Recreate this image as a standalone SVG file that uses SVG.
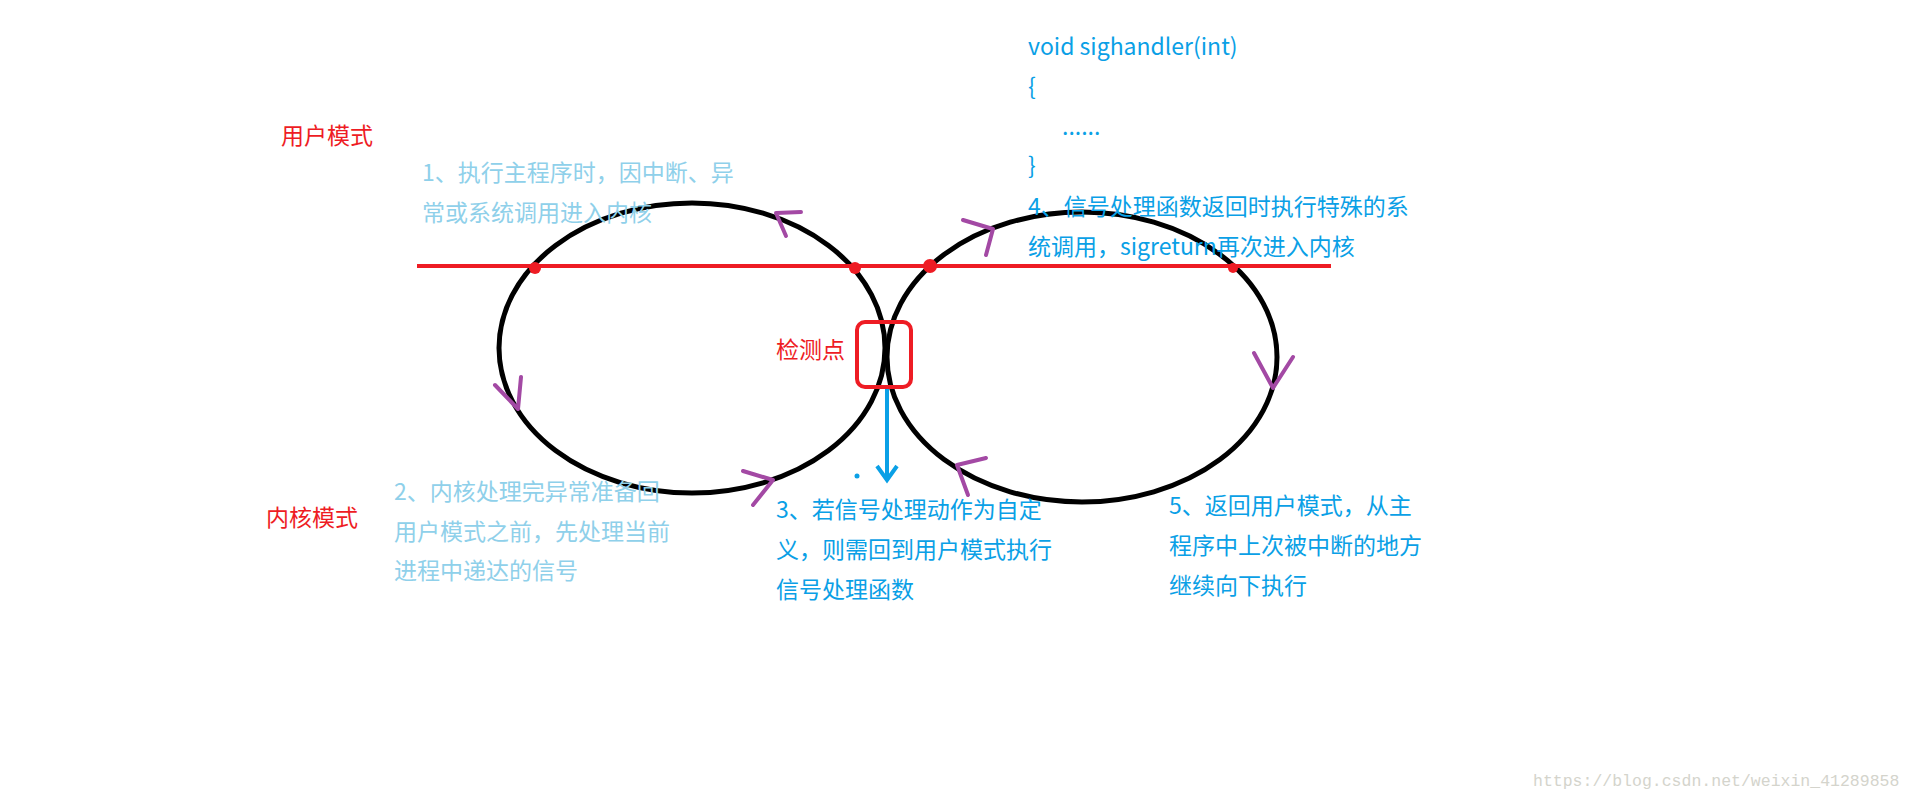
<svg xmlns="http://www.w3.org/2000/svg" width="1914" height="799" viewBox="0 0 1914 799">
<style>
.t{font-family:"Noto Sans CJK SC","Microsoft YaHei",sans-serif;font-size:23px}
.lb{fill:#8fd0ea}.b{fill:#0aa0e6}.r{fill:#ee1c24}
.ch{fill:none;stroke:#a349a4;stroke-width:4;stroke-linecap:round;stroke-linejoin:round}
</style>
<rect width="1914" height="799" fill="#fff"/>
<g id="loops" fill="none" stroke="#000" stroke-width="5">
<ellipse cx="692" cy="348" rx="193" ry="145"/>
<ellipse cx="1082" cy="357" rx="195" ry="145"/>
</g>
<g id="connectors">
<line x1="417" y1="266" x2="1331" y2="266" stroke="#ee1c24" stroke-width="4"/>
<g fill="#ee1c24"><circle cx="535" cy="268" r="6"/><circle cx="855" cy="268" r="6"/><circle cx="930" cy="266" r="7"/><circle cx="1233" cy="268" r="5"/></g>
<g class="ch">
<polyline points="801,212 776,213 786,236"/>
<polyline points="495,385 518,409 521,377"/>
<polyline points="743,471 773,480 753,505"/>
<polyline points="963,220 993,229 986,255"/>
<polyline points="1254,353 1273,388 1293,357"/>
<polyline points="986,458 957,465 968,495"/>
</g>
<line x1="887" y1="387" x2="887" y2="478" stroke="#0aa0e6" stroke-width="4"/>
<polyline points="877,466 887,480 897,466" fill="none" stroke="#0aa0e6" stroke-width="4"/>
<rect x="857" y="322" width="54" height="65" rx="8" fill="none" stroke="#ee1c24" stroke-width="4"/>
<circle cx="857" cy="476" r="2.5" fill="#0aa0e6"/>
</g>
<g id="labels" class="t">
<text x="281" y="144" class="r">用户模式</text>
<text x="266" y="526" class="r">内核模式</text>
<text x="776" y="358" class="r">检测点</text>
<text class="lb"><tspan x="422" y="181">1、执行主程序时，因中断、异</tspan><tspan x="422" y="221">常或系统调用进入内核</tspan></text>
<text class="lb"><tspan x="394" y="500">2、内核处理完异常准备回</tspan><tspan x="394" y="540">用户模式之前，先处理当前</tspan><tspan x="394" y="579">进程中递达的信号</tspan></text>
<text class="b"><tspan x="1028" y="55">void  sighandler(int)</tspan><tspan x="1028" y="95">{</tspan><tspan x="1062" y="135">......</tspan><tspan x="1028" y="174">}</tspan><tspan x="1028" y="215">4、信号处理函数返回时执行特殊的系</tspan><tspan x="1028" y="255">统调用，sigreturn再次进入内核</tspan></text>
<text class="b"><tspan x="776" y="518">3、若信号处理动作为自定</tspan><tspan x="776" y="558">义，则需回到用户模式执行</tspan><tspan x="776" y="598">信号处理函数</tspan></text>
<text class="b"><tspan x="1169" y="514">5、返回用户模式，从主</tspan><tspan x="1169" y="554">程序中上次被中断的地方</tspan><tspan x="1169" y="594">继续向下执行</tspan></text>
<text x="1533" y="786" style="font-family:'Liberation Mono',monospace;font-size:16.5px;fill:#d4d4cc">https://blog.csdn.net/weixin_41289858</text>
</g>
</svg>
